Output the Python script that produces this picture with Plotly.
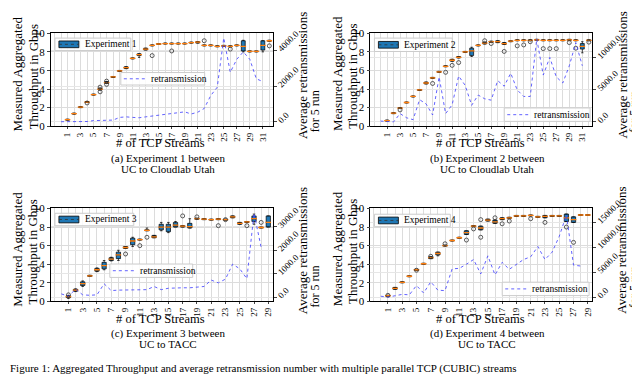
import plotly.graph_objects as go

FONT = "Liberation Serif"

# ---------------- data ----------------
# Experiment 1 (UC -> Cloudlab Utah)
a_pos = list(range(1, 33))
a_med = [0.7, 1.35, 2.05, 2.6, 3.4, 4.0, 4.7, 5.3, 5.95, 6.3, 7.3, 7.7, 8.3, 8.7, 8.85, 8.9,
         8.9, 8.9, 8.9, 9.0, 9.05, 8.7, 8.7, 8.6, 8.65, 8.6, 8.7, 8.6, 8.05, 8.05, 8.7, 9.2]
a_q1 = [0.65, 1.3, 2.0, 2.55, 3.35, 3.9, 4.6, 5.25, 5.9, 6.2, 7.25, 7.6, 8.2, 8.65, 8.8, 8.85,
        8.85, 8.85, 8.85, 8.95, 8.95, 8.65, 8.65, 8.55, 8.6, 8.55, 8.65, 8.1, 8.0, 8.0, 8.2, 9.15]
a_q3 = [0.75, 1.4, 2.1, 2.65, 3.45, 4.1, 4.8, 5.35, 6.0, 6.4, 7.35, 7.8, 8.4, 8.75, 8.9, 8.95,
        8.95, 8.95, 8.95, 9.05, 9.1, 8.75, 8.75, 8.65, 8.7, 8.65, 8.75, 9.2, 8.1, 8.1, 9.2, 9.25]
a_lo = [0.65, 1.3, 2.0, 2.55, 3.35, 3.9, 4.6, 5.25, 5.9, 6.2, 7.25, 7.4, 8.2, 8.65, 8.8, 8.85,
        8.85, 8.85, 8.85, 8.95, 8.95, 8.65, 8.65, 8.55, 8.6, 8.55, 8.65, 8.0, 8.0, 8.0, 8.0, 9.15]
a_hi = [0.75, 1.4, 2.1, 2.65, 3.45, 4.1, 4.8, 5.35, 6.0, 6.4, 7.35, 7.8, 8.4, 8.75, 8.9, 8.95,
        8.95, 8.95, 8.95, 9.05, 9.1, 8.75, 8.75, 8.65, 8.7, 8.65, 8.75, 9.25, 8.1, 8.1, 9.2, 9.25]
a_out_x = [4, 6, 6, 7, 7, 14, 17, 22, 26, 32]
a_out_y = [2.5, 4.2, 3.7, 4.5, 4.85, 7.6, 8.1, 9.2, 8.3, 8.65]
a_ret_x = list(range(0, 32))
a_ret = [10, 10, 20, 20, 20, 70, 70, 100, 100, 250, 280, 250, 230, 280, 330, 360, 410, 490,
         510, 560, 440, 540, 750, 1470, 1940, 4690, 2770, 3500, 3910, 3500, 2410, 2250]

# Experiment 2 (UC -> Cloudlab Utah)
b_pos = list(range(1, 33))
b_med = [0.6, 1.4, 1.95, 2.55, 3.2, 3.9, 4.65, 5.2, 5.85, 6.45, 7.1, 7.4, 8.0, 8.1, 8.7, 8.95,
         9.1, 9.1, 8.9, 9.15, 9.25, 9.25, 9.25, 9.3, 9.25, 9.25, 9.25, 9.25, 9.3, 9.25, 8.6, 9.25]
b_q1 = [0.55, 1.35, 1.9, 2.5, 3.15, 3.85, 4.55, 5.15, 5.8, 6.4, 7.0, 7.35, 7.95, 7.6, 8.65, 8.85,
        9.05, 9.0, 8.8, 9.1, 9.2, 9.2, 9.2, 9.25, 9.2, 9.2, 9.2, 9.2, 9.25, 9.2, 8.3, 9.2]
b_q3 = [0.65, 1.45, 2.0, 2.6, 3.25, 3.95, 4.75, 5.25, 5.9, 6.5, 7.2, 7.5, 8.05, 8.4, 8.75, 9.05,
        9.15, 9.2, 9.0, 9.2, 9.3, 9.3, 9.3, 9.35, 9.3, 9.3, 9.3, 9.3, 9.35, 9.3, 8.9, 9.3]
b_lo = [0.55, 1.35, 1.9, 2.5, 3.15, 3.85, 4.55, 5.15, 5.8, 6.4, 7.0, 7.35, 7.95, 7.5, 8.65, 8.85,
        9.05, 9.0, 8.8, 9.1, 9.2, 9.2, 9.2, 9.25, 9.2, 9.2, 9.2, 9.2, 9.25, 9.2, 7.9, 9.2]
b_hi = [0.65, 1.45, 2.0, 2.6, 3.25, 3.95, 4.75, 5.25, 5.9, 6.5, 7.2, 7.5, 8.05, 8.5, 8.75, 9.05,
        9.15, 9.2, 9.0, 9.2, 9.3, 9.3, 9.3, 9.35, 9.3, 9.3, 9.3, 9.3, 9.35, 9.3, 9.1, 9.3]
b_out_x = [3, 8, 10, 11, 12, 16, 17, 19, 21, 22, 23, 25, 26, 27, 29, 30, 32]
b_out_y = [1.75, 4.6, 5.8, 6.55, 6.85, 9.2, 8.9, 8.05, 8.65, 8.75, 9.1, 8.35, 8.35, 8.35, 9.0, 8.4, 9.05]
b_ret_x = list(range(0, 32))
b_ret = [140, 70, 10, 1300, 650, 360, 3460, 2810, 1080, 6990, 1300, 2670, 7130, 5690, 2590, 4180,
         3600, 3390, 6410, 5550, 7570, 4970, 3960, 3960, 12900, 7280, 10020, 6990, 6050, 8720, 12320, 8720]

# Experiment 3 (UC -> TACC)
c_pos = list(range(1, 30))
c_med = [0.5, 1.2, 1.9, 2.75, 3.4, 3.85, 4.55, 5.0, 5.8, 6.5, 6.65, 7.65, 6.95, 8.0, 8.0, 8.2,
         8.1, 8.05, 8.9, 8.85, 8.8, 8.85, 8.8, 9.1, 8.4, 8.55, 8.9, 7.95, 8.5]
c_q1 = [0.4, 1.1, 1.7, 2.7, 3.25, 3.5, 4.4, 4.6, 5.7, 6.1, 6.6, 7.6, 6.85, 7.7, 7.5, 8.0,
        8.0, 7.9, 8.85, 8.8, 8.75, 8.8, 8.75, 9.0, 8.3, 8.5, 8.6, 7.9, 8.0]
c_q3 = [0.6, 1.3, 2.1, 2.8, 3.55, 4.2, 4.7, 5.3, 5.9, 6.8, 6.7, 7.7, 7.1, 8.3, 8.3, 8.5,
        8.15, 8.4, 8.95, 8.9, 8.85, 8.9, 8.85, 9.2, 8.5, 8.6, 9.2, 8.0, 9.2]
c_lo = [0.3, 1.05, 1.6, 2.7, 3.2, 3.4, 4.35, 4.4, 5.7, 5.9, 6.6, 7.6, 6.85, 7.6, 7.4, 8.0,
        8.0, 7.9, 8.85, 8.8, 8.75, 8.8, 8.75, 9.0, 8.3, 8.5, 8.3, 7.9, 8.0]
c_hi = [0.65, 1.35, 2.2, 2.8, 3.6, 4.4, 4.75, 5.5, 5.9, 6.9, 6.7, 7.9, 7.1, 8.5, 8.5, 8.6,
        8.15, 8.9, 8.95, 8.9, 8.85, 8.9, 8.85, 9.2, 8.5, 8.6, 9.4, 8.0, 9.2]
c_out_x = [1, 9, 11, 12, 17, 19, 22, 23, 26, 28]
c_out_y = [0.7, 5.1, 6.0, 6.9, 9.2, 9.1, 8.15, 8.8, 8.15, 8.5]
c_ret_x = list(range(0, 29))
c_ret = [140, 40, 340, 100, 80, 100, 570, 280, 300, 300, 300, 320, 320, 455, 320, 380, 400,
         400, 400, 420, 455, 730, 610, 770, 1410, 1210, 790, 3580, 2120]

# Experiment 4 (UC -> TACC)
d_pos = list(range(1, 30))
d_med = [0.6, 1.4, 2.05, 2.7, 3.4, 4.05, 4.7, 5.15, 6.0, 6.55, 6.85, 7.4, 8.1, 7.9, 8.75, 8.55,
         8.9, 9.0, 9.2, 9.2, 9.25, 9.1, 9.15, 9.2, 9.2, 9.0, 8.8, 9.3, 9.3]
d_q1 = [0.55, 1.3, 2.0, 2.65, 3.35, 4.0, 4.6, 5.0, 5.95, 6.5, 6.8, 7.2, 8.05, 7.7, 8.65, 8.4,
        8.8, 8.95, 9.15, 9.15, 9.2, 9.05, 9.0, 9.15, 9.15, 8.6, 8.5, 9.25, 9.25]
d_q3 = [0.65, 1.5, 2.1, 2.75, 3.45, 4.1, 4.8, 5.3, 6.05, 6.6, 6.9, 7.6, 8.15, 8.1, 8.85, 8.75,
        9.0, 9.05, 9.25, 9.25, 9.3, 9.15, 9.25, 9.25, 9.25, 9.4, 9.1, 9.35, 9.35]
d_lo = [0.55, 1.3, 2.0, 2.65, 3.35, 4.0, 4.6, 4.9, 5.95, 6.5, 6.8, 7.2, 8.05, 7.7, 8.65, 8.4,
        8.8, 8.95, 9.15, 9.15, 9.2, 9.05, 9.0, 9.15, 9.15, 8.6, 8.5, 9.25, 9.25]
d_hi = [0.65, 1.5, 2.1, 2.75, 3.45, 4.1, 4.8, 5.3, 6.05, 6.6, 6.9, 7.6, 8.15, 8.1, 8.85, 8.75,
        9.0, 9.05, 9.25, 9.25, 9.3, 9.15, 9.25, 9.25, 9.25, 9.4, 9.1, 9.35, 9.35]
d_out_x = [1, 5, 7, 9, 12, 13, 14, 14, 16, 17, 18, 21, 23, 26, 27]
d_out_y = [0.65, 3.35, 4.85, 6.2, 6.6, 7.8, 8.8, 6.9, 9.0, 8.35, 8.65, 8.9, 8.5, 8.0, 6.35]
d_ret_x = list(range(0, 29))
d_ret = [190, 10, 280, 560, 470, 2330, 840, 3080, 1400, 1310, 5690, 5790, 6620, 7560, 4670,
         8300, 4480, 7000, 5600, 6620, 7560, 8120, 10170, 7560, 9050, 12220, 16510, 6440, 6250]

names = ["Experiment 1", "Experiment 2", "Experiment 3", "Experiment 4"]
cap_line1 = ["(a) Experiment 1 between", "(b) Experiment 2 between",
             "(c) Experiment 3 between", "(d) Experiment 4 between"]
cap_line2 = ["UC to Cloudlab Utah", "UC to Cloudlab Utah", "UC to TACC", "UC to TACC"]
x_ticks_32 = [1, 3, 5, 7, 9, 11, 13, 15, 17, 19, 21, 23, 25, 27, 29, 31]
x_ticks_29 = [1, 3, 5, 7, 9, 11, 13, 15, 17, 19, 21, 23, 25, 27, 29]
y_ticks = [0, 2, 4, 6, 8, 10]
ret_ticks = [[0, 2000, 4000], [0, 5000, 10000], [0, 1000, 2000, 3000], [0, 5000, 10000, 15000]]

panels = [
    (a_pos, a_med, a_q1, a_q3, a_lo, a_hi, a_out_x, a_out_y, a_ret_x, a_ret),
    (b_pos, b_med, b_q1, b_q3, b_lo, b_hi, b_out_x, b_out_y, b_ret_x, b_ret),
    (c_pos, c_med, c_q1, c_q3, c_lo, c_hi, c_out_x, c_out_y, c_ret_x, c_ret),
    (d_pos, d_med, d_q1, d_q3, d_lo, d_hi, d_out_x, d_out_y, d_ret_x, d_ret),
]

# ---------------- layout geometry (pixels -> paper) ----------------
W, H = 640, 374
px = lambda v: v / W
py = lambda v: 1 - v / H
x_dom = [[px(43), px(265)], [px(363), px(585)], [px(43), px(265)], [px(363), px(585)]]
y_dom = [[py(113), py(16)], [py(113), py(16)], [py(296), py(199)], [py(296), py(199)]]
x_rng = [[-1.55, 32.5], [-1.55, 32.5], [-1.45, 29.6], [-1.45, 29.6]]
r_rng = [[-240, 4950], [-650, 13760], [-178, 3782], [-840, 17820]]
# legend frames (x0, y0, x1, y1) in pixels
leg_exp = [(47, 21, 123, 34), (367, 21, 445, 35), (47, 204, 126, 217), (367, 205, 443, 218)]
leg_ret = [(113, 57, 197, 70), (497, 94, 583, 108), (102, 257, 185, 271), (495, 276, 582, 290)]

GRID = "#dcdcdc"
BOXC = "#1f77b4"
RETC = "rgba(70,70,255,0.85)"
fig = go.Figure()
shapes, ann = [], []
layout = dict(
    width=W, height=H, margin=dict(l=0, r=0, t=0, b=0),
    paper_bgcolor="white", plot_bgcolor="white", showlegend=False,
    font=dict(family=FONT, size=10, color="black"),
)


def text(t, x, y, size, angle=0, xanchor="center"):
    ann.append(dict(text=t, x=px(x), y=py(y), xref="paper", yref="paper", textangle=angle,
                    showarrow=False, font=dict(size=size), xanchor=xanchor, yanchor="middle"))


for i, (pos, med, q1, q3, lo, hi, ox, oy, rx, ret) in enumerate(panels):
    xa = "x" if i == 0 else f"x{i + 1}"
    ya = "y" if i == 0 else f"y{2 * i + 1}"
    yr = f"y{2 * i + 2}"

    fig.add_trace(go.Box(
        x=pos, q1=q1, median=med, q3=q3, lowerfence=lo, upperfence=hi,
        boxpoints=False, fillcolor=BOXC, line=dict(color="black", width=0.7),
        width=0.6, whiskerwidth=0.6, name=names[i], xaxis=xa, yaxis=ya, hoverinfo="skip"))
    fig.add_trace(go.Scatter(
        x=pos, y=med, mode="markers", xaxis=xa, yaxis=ya, name="median",
        marker=dict(symbol="line-ew", size=4, line=dict(color="#ff7f0e", width=1.3))))
    fig.add_trace(go.Scatter(
        x=ox, y=oy, mode="markers", xaxis=xa, yaxis=ya, name="outliers",
        marker=dict(symbol="circle-open", size=4, color="#333333", line=dict(width=0.8))))
    fig.add_trace(go.Scatter(
        x=rx, y=ret, mode="lines", name="retransmission", xaxis=xa, yaxis=yr,
        line=dict(color=RETC, width=1, dash="dot")))

    ticks = x_ticks_32 if len(pos) == 32 else x_ticks_29
    xkey = "xaxis" if i == 0 else f"xaxis{i + 1}"
    ykey = "yaxis" if i == 0 else f"yaxis{2 * i + 1}"
    rkey = f"yaxis{2 * i + 2}"
    layout[xkey] = dict(
        domain=x_dom[i], anchor=ya, range=x_rng[i], tickmode="array",
        tickvals=ticks, ticktext=[str(t) for t in ticks], tickangle=-90,
        ticks="outside", ticklen=2, showline=True, mirror=True, linecolor="black",
        linewidth=0.8, showgrid=True, gridcolor=GRID, gridwidth=0.8, zeroline=False,
        tickfont=dict(size=9),
        minor=dict(tickmode="linear", tick0=0, dtick=1, showgrid=True,
                   gridcolor=GRID, gridwidth=0.8))
    layout[ykey] = dict(
        domain=y_dom[i], anchor=xa, range=[0, 10], tickvals=y_ticks,
        ticks="outside", ticklen=3, showline=True, mirror=True, linecolor="black",
        linewidth=0.8, showgrid=True, gridcolor=GRID, gridwidth=0.8, zeroline=False,
        tickfont=dict(size=11))
    layout[rkey] = dict(
        overlaying=ya, side="right", anchor=xa, range=r_rng[i], tickvals=ret_ticks[i],
        tickformat=".1f", tickangle=-45, ticks="outside", ticklen=3, showline=False,
        showgrid=True, gridcolor="#e6e6e6", gridwidth=0.8, zeroline=False,
        tickfont=dict(size=9))

    # hand-drawn legends (matplotlib style)
    x0, y0, x1, y1 = leg_exp[i]
    ym = (y0 + y1) / 2
    shapes.append(dict(type="rect", xref="paper", yref="paper", x0=px(x0), x1=px(x1),
                       y0=py(y1), y1=py(y0), line=dict(color="#cccccc", width=1),
                       fillcolor="rgba(255,255,255,0.85)", layer="above"))
    shapes.append(dict(type="rect", xref="paper", yref="paper", x0=px(x0 + 4), x1=px(x0 + 24),
                       y0=py(ym + 3.5), y1=py(ym - 3.5), line=dict(color="black", width=0.8),
                       fillcolor=BOXC, layer="above"))
    shapes.append(dict(type="line", xref="paper", yref="paper", x0=px(x0 + 4), x1=px(x0 + 24),
                       y0=py(ym), y1=py(ym), line=dict(color="#333333", width=0.8, dash="dot"),
                       layer="above"))
    text(names[i], x0 + 28, ym, 9.5, xanchor="left")

    x0, y0, x1, y1 = leg_ret[i]
    ym = (y0 + y1) / 2
    shapes.append(dict(type="rect", xref="paper", yref="paper", x0=px(x0), x1=px(x1),
                       y0=py(y1), y1=py(y0), line=dict(color="#cccccc", width=1),
                       fillcolor="rgba(255,255,255,0.85)", layer="above"))
    shapes.append(dict(type="line", xref="paper", yref="paper", x0=px(x0 + 3), x1=px(x0 + 24),
                       y0=py(ym), y1=py(ym), line=dict(color=RETC, width=1, dash="dot"),
                       layer="above"))
    text("retransmission", x0 + 28, ym, 9.5, xanchor="left")

    # titles and captions
    left = 0 if i % 2 == 0 else 320
    top = 0 if i < 2 else 183
    text("Measured Aggregated", left + 10, top + 58, 13, angle=-90)
    text("Throughput in Gbps", left + 25, top + 61, 13, angle=-90)
    text("Average retransmissions", left + 295, top + 60, 13, angle=-90)
    text("for 5 run", left + 307, top + 98, 12, angle=-90)
    text("# of TCP Streams", left + 153, top + 131, 12.5)
    text(cap_line1[i], left + 160, top + 147, 11)
    text(cap_line2[i], left + 160, top + 158, 11)

ann.append(dict(
    text="Figure 1: Aggregated Throughput and average retransmission number with multiple parallel TCP (CUBIC) streams",
    x=0, y=py(357), xref="paper", yref="paper", showarrow=False, font=dict(size=11),
    xanchor="left", yanchor="top"))

layout["shapes"] = shapes
layout["annotations"] = ann
fig.update_layout(**layout)
fig.write_html("out.html")
